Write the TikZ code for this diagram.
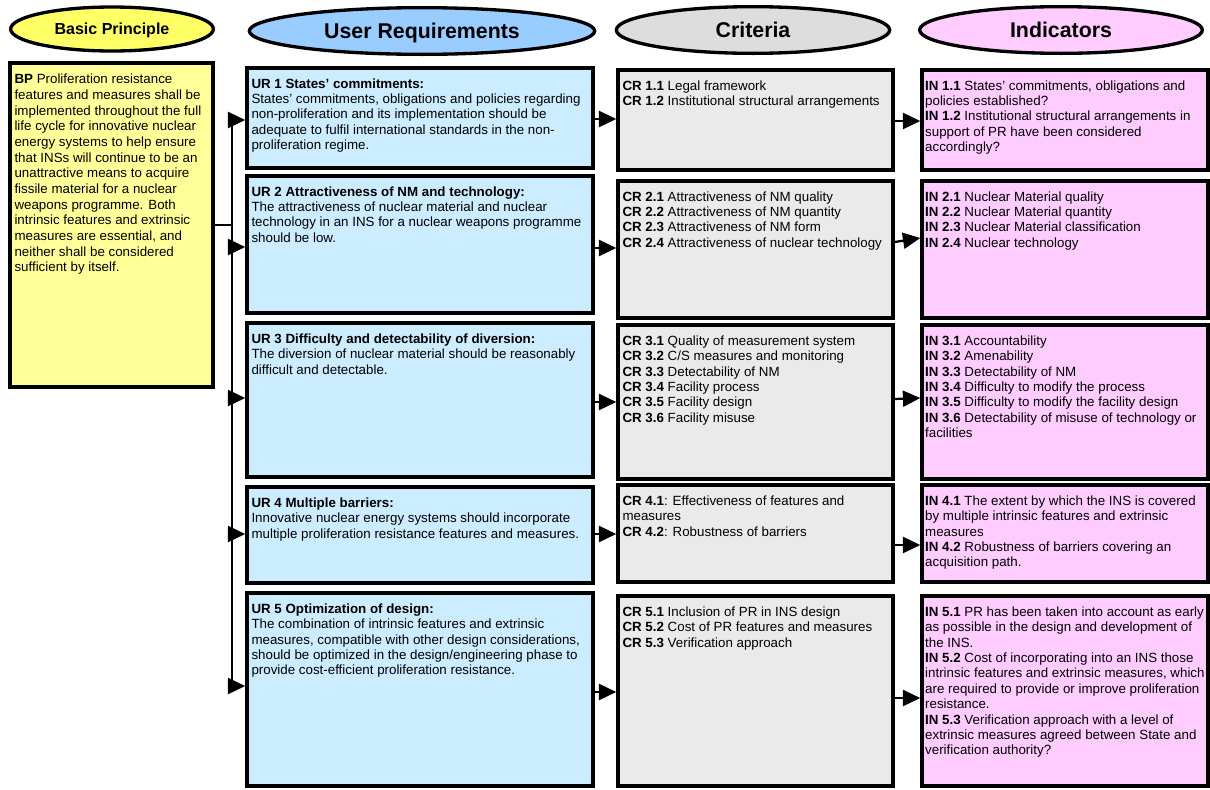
\documentclass[tikz,border=0pt]{standalone}
\usepackage{fontspec}
\setmainfont{Liberation Sans}
\usetikzlibrary{shapes.geometric,arrows.meta,fit}

\definecolor{bphead}{HTML}{FFFF66}
\definecolor{bpfill}{HTML}{FFFF99}
\definecolor{urhead}{HTML}{99CCFF}
\definecolor{urfill}{HTML}{CCECFF}
\definecolor{crhead}{HTML}{DDDDDD}
\definecolor{crfill}{HTML}{EAEAEA}
\definecolor{inhead}{HTML}{FFCCFF}
\definecolor{infill}{HTML}{FFCCFF}

\tikzset{
  hdr/.style={ellipse, draw, line width=2.5pt, inner sep=0pt, text depth=0pt, font=\bfseries\fontsize{16}{18}\selectfont},
  box/.style={rectangle, draw, line width=2.6pt, inner sep=0pt},
  txt/.style={anchor=north west, inner sep=0pt, align=left, xshift=4.5pt, yshift=-9pt, font=\fontsize{10}{11.55}\selectfont},
  conn/.style={line width=1.7pt},
  arr/.style={conn, -{Triangle[length=13pt,width=12pt]}}
}

\begin{document}
\begin{tikzpicture}[x=0.75pt,y=-0.75pt]
\useasboundingbox (0,0) rectangle (1210,789);
% Headers
\node[hdr, fill=bphead, minimum width=152pt, minimum height=33pt, font=\bfseries\fontsize{12}{14}\selectfont] (bph) at (112,29) {Basic Principle};
\node[hdr, fill=urhead, minimum width=259pt, minimum height=35pt] (urh) at (422,31) {User Requirements};
\node[hdr, fill=crhead, minimum width=205pt, minimum height=35pt] (crh) at (753,30) {Criteria};
\node[hdr, fill=inhead, minimum width=212pt, minimum height=35pt] (inh) at (1061,30) {Indicators};
% Basic principle
\node[box, fill=bpfill, fit={(10,63) (213,387)}] (bp) {};
\node[txt, yshift=-0.5pt, font=\fontsize{10}{11.75}\selectfont] (bpt) at (bp.north west) {\textbf{BP} Proliferation resistance\\features and measures shall be\\implemented throughout the full\\life cycle for innovative nuclear\\energy systems to help ensure\\that INSs will continue to be an\\unattractive means to acquire\\fissile material for a nuclear\\weapons programme. Both\\intrinsic features and extrinsic\\measures are essential, and\\neither shall be considered\\sufficient by itself.};
% User requirements
\node[box, fill=urfill, fit={(247,68) (593,168)}] (ur1) {};
\node[box, fill=urfill, fit={(247,176) (593,313)}] (ur2) {};
\node[box, fill=urfill, fit={(247,323) (593,477)}] (ur3) {};
\node[box, fill=urfill, fit={(247,487) (593,583)}] (ur4) {};
\node[box, fill=urfill, fit={(247,593) (593,786)}] (ur5) {};
\node[txt] (ur1t) at (ur1.north west) {\textbf{UR 1 States' commitments:}\\States' commitments, obligations and policies regarding\\non-proliferation and its implementation should be\\adequate to fulfil international standards in the non-\\proliferation regime.};
\node[txt] (ur2t) at (ur2.north west) {\textbf{UR 2 Attractiveness of NM and technology:}\\The attractiveness of nuclear material and nuclear\\technology in an INS for a nuclear weapons programme\\should be low.};
\node[txt] (ur3t) at (ur3.north west) {\textbf{UR 3 Difficulty and detectability of diversion:}\\The diversion of nuclear material should be reasonably\\difficult and detectable.};
\node[txt] (ur4t) at (ur4.north west) {\textbf{UR 4 Multiple barriers:}\\Innovative nuclear energy systems should incorporate\\multiple proliferation resistance features and measures.};
\node[txt] (ur5t) at (ur5.north west) {\textbf{UR 5 Optimization of design:}\\The combination of intrinsic features and extrinsic\\measures, compatible with other design considerations,\\should be optimized in the design/engineering phase to\\provide cost-efficient proliferation resistance.};
% Criteria
\node[box, fill=crfill, fit={(618,70) (893,170)}] (cr1) {};
\node[box, fill=crfill, fit={(618,181) (893,318)}] (cr2) {};
\node[box, fill=crfill, fit={(618,325) (893,479)}] (cr3) {};
\node[box, fill=crfill, fit={(618,485) (893,582)}] (cr4) {};
\node[box, fill=crfill, fit={(618,596) (893,786)}] (cr5) {};
\node[txt] (cr1t) at (cr1.north west) {\textbf{CR 1.1} Legal framework\\\textbf{CR 1.2} Institutional structural arrangements};
\node[txt] (cr2t) at (cr2.north west) {\textbf{CR 2.1} Attractiveness of NM quality\\\textbf{CR 2.2} Attractiveness of NM quantity\\\textbf{CR 2.3} Attractiveness of NM form\\\textbf{CR 2.4} Attractiveness of nuclear technology};
\node[txt] (cr3t) at (cr3.north west) {\textbf{CR 3.1} Quality of measurement system\\\textbf{CR 3.2} C/S measures and monitoring\\\textbf{CR 3.3} Detectability of NM\\\textbf{CR 3.4} Facility process\\\textbf{CR 3.5} Facility design\\\textbf{CR 3.6} Facility misuse};
\node[txt] (cr4t) at (cr4.north west) {\textbf{CR 4.1}: Effectiveness of features and\\measures\\\textbf{CR 4.2}: Robustness of barriers};
\node[txt] (cr5t) at (cr5.north west) {\textbf{CR 5.1} Inclusion of PR in INS design\\\textbf{CR 5.2} Cost of PR features and measures\\\textbf{CR 5.3} Verification approach};
% Indicators
\node[box, fill=infill, fit={(922,70) (1208,170)}] (in1) {};
\node[box, fill=infill, fit={(922,181) (1208,318)}] (in2) {};
\node[box, fill=infill, fit={(922,325) (1208,479)}] (in3) {};
\node[box, fill=infill, fit={(922,485) (1208,582)}] (in4) {};
\node[box, fill=infill, fit={(922,596) (1208,786)}] (in5) {};
\node[txt, xshift=-1pt] (in1t) at (in1.north west) {\textbf{IN 1.1} States' commitments, obligations and\\policies established?\\\textbf{IN 1.2} Institutional structural arrangements in\\support of PR have been considered\\accordingly?};
\node[txt, xshift=-1pt] (in2t) at (in2.north west) {\textbf{IN 2.1} Nuclear Material quality\\\textbf{IN 2.2} Nuclear Material quantity\\\textbf{IN 2.3} Nuclear Material classification\\\textbf{IN 2.4} Nuclear technology};
\node[txt, xshift=-1pt] (in3t) at (in3.north west) {\textbf{IN 3.1} Accountability\\\textbf{IN 3.2} Amenability\\\textbf{IN 3.3} Detectability of NM\\\textbf{IN 3.4} Difficulty to modify the process\\\textbf{IN 3.5} Difficulty to modify the facility design\\\textbf{IN 3.6} Detectability of misuse of technology or\\facilities};
\node[txt, xshift=-1pt] (in4t) at (in4.north west) {\textbf{IN 4.1} The extent by which the INS is covered\\by multiple intrinsic features and extrinsic\\measures\\\textbf{IN 4.2} Robustness of barriers covering an\\acquisition path.};
\node[txt, xshift=-1pt] (in5t) at (in5.north west) {\textbf{IN 5.1} PR has been taken into account as early\\as possible in the design and development of\\the INS.\\\textbf{IN 5.2} Cost of incorporating into an INS those\\intrinsic features and extrinsic measures, which\\are required to provide or improve proliferation\\resistance.\\\textbf{IN 5.3} Verification approach with a level of\\extrinsic measures agreed between State and\\verification authority?};
% Connectors
\coordinate (j) at (232,225);
\coordinate (t1) at (232,120);
\coordinate (t2) at (232,247);
\coordinate (t3) at (232,398);
\coordinate (t4) at (232,534);
\coordinate (t5) at (232,686);
\draw[conn] (bp.east) -- (j);
\draw[conn] (t1) -- (t5);
\foreach \i in {1,...,5}
  \draw[arr] (t\i) -- (ur\i.west |- t\i);
\draw[arr] (ur1.east |- 0,119) -- (cr1.west |- 0,119);
\draw[arr] (ur2.east |- 0,248) -- (cr2.west |- 0,248);
\draw[arr] (ur3.east |- 0,402) -- (cr3.west |- 0,402);
\draw[arr] (ur4.east |- 0,534) -- (cr4.west |- 0,534);
\draw[arr] (ur5.east |- 0,692) -- (cr5.west |- 0,692);
\draw[arr] (cr1.east |- 0,121) -- (in1.west |- 0,121);
\draw[arr] (cr2.east |- 0,242) -- (in2.west |- 0,238);
\draw[arr] (cr3.east |- 0,399) -- (in3.west |- 0,398);
\draw[arr] (cr4.east |- 0,545) -- (in4.west |- 0,545);
\draw[arr] (cr5.east |- 0,698) -- (in5.west |- 0,698);
\end{tikzpicture}
\end{document}
